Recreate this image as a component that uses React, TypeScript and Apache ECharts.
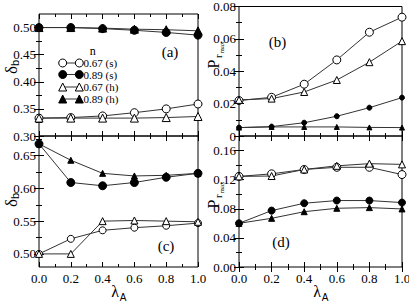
import React, { useEffect, useRef } from 'react';
import * as echarts from 'echarts';

// ---------- data ----------
const lambdaA = [0, 0.2, 0.4, 0.6, 0.8, 1.0];
const legendLabels = ['0.67 (s)', '0.89 (s)', '0.67 (h)', '0.89 (h)'];

// panel (a): delta_b
const deltaA_067s = [0.333, 0.334, 0.337, 0.343, 0.350, 0.359];
const deltaA_089s = [0.500, 0.500, 0.498, 0.495, 0.491, 0.486];
const deltaA_067h = [0.333, 0.333, 0.333, 0.333, 0.334, 0.336];
const deltaA_089h = [0.500, 0.500, 0.499, 0.497, 0.496, 0.494];

// panel (b): P_rmax
const prB_067s = [0.0219, 0.0239, 0.0320, 0.0470, 0.0641, 0.0734];
const prB_089s = [0.0052, 0.0058, 0.0082, 0.0122, 0.0175, 0.0237];
const prB_067h = [0.0223, 0.0231, 0.0272, 0.0346, 0.0456, 0.0586];
const prB_089h = [0.0052, 0.0056, 0.0056, 0.0056, 0.0053, 0.0052];

// panel (c): delta_b
const deltaC_067s = [0.500, 0.523, 0.536, 0.540, 0.543, 0.547];
const deltaC_089s = [0.668, 0.609, 0.604, 0.609, 0.617, 0.623];
const deltaC_067h = [0.500, 0.500, 0.550, 0.551, 0.550, 0.549];
const deltaC_089h = [0.668, 0.643, 0.623, 0.619, 0.620, 0.623];

// panel (d): P_rmax
const prD_067s = [0.1245, 0.128, 0.134, 0.137, 0.137, 0.127];
const prD_089s = [0.060, 0.0775, 0.0876, 0.0913, 0.0913, 0.0885];
const prD_067h = [0.1245, 0.125, 0.134, 0.139, 0.142, 0.141];
const prD_089h = [0.060, 0.0669, 0.0760, 0.0807, 0.0816, 0.0798];

// ticks
const xMajorTicks = [0, 0.2, 0.4, 0.6, 0.8, 1.0];
const xMinorTicks = [0.1, 0.3, 0.5, 0.7, 0.9];
const aMajorTicks = [0.30, 0.35, 0.40, 0.45, 0.50];
const aMinorTicks = [0.325, 0.375, 0.425, 0.475];
const bMajorTicks = [0, 0.02, 0.04, 0.06, 0.08];
const bMinorTicks = [0.01, 0.03, 0.05, 0.07];
const cMajorTicks = [0.50, 0.55, 0.60, 0.65];
const cMinorTicks = [0.525, 0.575, 0.625, 0.675];
const dMajorTicks = [0, 0.04, 0.08, 0.12, 0.16];
const dMinorTicks = [0.02, 0.06, 0.10, 0.14];

// ---------- layout / style ----------
const SERIF = 'Liberation Serif, serif';
const SANS = 'Liberation Sans, sans-serif';
const LINE = '#333';

const markerStyles = [
  { symbol: 'circle', filled: false },
  { symbol: 'circle', filled: true },
  { symbol: 'triangle', filled: false },
  { symbol: 'triangle', filled: true },
];

const panels = [
  {
    left: 39, top: 14, width: 159, height: 122, ymin: 0.30, ymax: 0.525,
    yMajor: aMajorTicks, yMinor: aMinorTicks, fmt: (v: number) => v.toFixed(2),
    xLabels: false, data: [deltaA_067s, deltaA_089s, deltaA_067h, deltaA_089h], sizes: [8, 8, 8, 8],
  },
  {
    left: 239, top: 6.5, width: 163, height: 129.5, ymin: 0, ymax: 0.08,
    yMajor: bMajorTicks, yMinor: bMinorTicks, fmt: (v: number) => (v === 0 ? '0' : v.toFixed(2)),
    xLabels: false, data: [prB_067s, prB_089s, prB_067h, prB_089h], sizes: [8, 5, 7, 5],
  },
  {
    left: 39, top: 136, width: 159, height: 131, ymin: 0.48, ymax: 0.68,
    yMajor: cMajorTicks, yMinor: cMinorTicks, fmt: (v: number) => v.toFixed(2),
    xLabels: true, data: [deltaC_067s, deltaC_089s, deltaC_067h, deltaC_089h], sizes: [7, 8, 7, 6],
  },
  {
    left: 239, top: 136, width: 163, height: 131, ymin: 0, ymax: 0.18,
    yMajor: dMajorTicks, yMinor: dMinorTicks, fmt: (v: number) => v.toFixed(2),
    xLabels: true, data: [prD_067s, prD_089s, prD_067h, prD_089h], sizes: [8, 7, 7, 6],
  },
];

function buildOption() {
  const grid: any[] = [];
  const xAxis: any[] = [];
  const yAxis: any[] = [];
  const series: any[] = [];

  panels.forEach((p, pi) => {
    for (let k = 0; k < 2; k++) {
      const gi = pi * 2 + k;
      grid.push({
        left: p.left, top: p.top, width: p.width, height: p.height,
        show: k === 0, borderColor: '#000', borderWidth: 1, backgroundColor: 'transparent',
        containLabel: false, outerBoundsMode: 'none',
      });
      const xt = k === 0 ? xMajorTicks : xMinorTicks;
      const yt = k === 0 ? p.yMajor : p.yMinor;
      const tl = k === 0 ? 5 : 3;
      ['bottom', 'top'].forEach((pos) => {
        xAxis.push({
          type: 'value', gridIndex: gi, position: pos, min: 0, max: 1,
          axisLine: { show: false }, splitLine: { show: false },
          axisTick: { show: true, inside: true, length: tl, customValues: xt, lineStyle: { color: '#000', width: 1 } },
          axisLabel: {
            show: k === 0 && pos === 'bottom' && p.xLabels, customValues: xMajorTicks,
            formatter: (v: number) => v.toFixed(1), margin: 5,
            fontFamily: SERIF, fontSize: 13, color: '#000',
          },
        });
      });
      ['left', 'right'].forEach((pos) => {
        yAxis.push({
          type: 'value', gridIndex: gi, position: pos, min: p.ymin, max: p.ymax,
          axisLine: { show: false }, splitLine: { show: false },
          axisTick: { show: true, inside: true, length: tl, customValues: yt, lineStyle: { color: '#000', width: 1 } },
          axisLabel: {
            show: k === 0 && pos === 'left', customValues: p.yMajor,
            formatter: p.fmt, margin: 3,
            fontFamily: SERIF, fontSize: 13, color: '#000',
          },
        });
      });
    }
    p.data.forEach((vals, si) => {
      const m = markerStyles[si];
      series.push({
        type: 'line',
        name: legendLabels[si],
        xAxisIndex: pi * 4,
        yAxisIndex: pi * 4,
        data: lambdaA.map((x, i) => [x, vals[i]]),
        symbol: m.symbol,
        symbolSize: p.sizes[si],
        showSymbol: true,
        lineStyle: { color: LINE, width: 1 },
        itemStyle: { color: m.filled ? '#000' : '#fff', borderColor: '#000', borderWidth: 1 },
        emphasis: { disabled: true },
        z: 3,
      });
    });
  });

  const graphic: any[] = [];
  const txt = (text: string, x: number, y: number, size: number, family = SERIF, align = 'center') => ({
    type: 'text', x, y,
    style: { text, fontFamily: family, fontSize: size, fill: '#000', textAlign: align, textVerticalAlign: 'middle' },
  });

  // panel labels
  graphic.push(txt('(a)', 170, 52, 15));
  graphic.push(txt('(b)', 277.5, 42, 15));
  graphic.push(txt('(c)', 166, 246, 15));
  graphic.push(txt('(d)', 281, 242, 15));

  // legend
  graphic.push(txt('n', 92.7, 51, 12));
  const rows = [63, 74.5, 87, 99];
  const lx1 = 62.7, lx2 = 79.3, ms = 8;
  rows.forEach((ry, i) => {
    const m = markerStyles[i];
    graphic.push({ type: 'line', shape: { x1: lx1, y1: ry, x2: lx2, y2: ry }, style: { stroke: LINE, lineWidth: 1 } });
    [lx1, lx2].forEach((cx) => {
      const style = { fill: m.filled ? '#000' : '#fff', stroke: '#000', lineWidth: 1 };
      if (m.symbol === 'circle') {
        graphic.push({ type: 'circle', shape: { cx, cy: ry, r: ms / 2 }, style });
      } else {
        graphic.push({
          type: 'polygon',
          shape: { points: [[cx, ry - ms / 2], [cx - ms / 2, ry + ms / 2], [cx + ms / 2, ry + ms / 2]] },
          style,
        });
      }
    });
    graphic.push(txt(legendLabels[i], 83.5, ry, 11, SERIF, 'left'));
  });

  // x axis titles
  [[115, 291], [317, 291]].forEach(([cx, cy]) => {
    graphic.push(txt('λ', cx, cy, 16));
    graphic.push(txt('A', cx + 8, cy + 6, 10, SANS));
  });

  // y axis titles (rotated)
  const deltaTitle = (cx: number, cy: number) => ({
    type: 'group', x: cx, y: cy, rotation: Math.PI / 2,
    children: [
      { type: 'text', x: 0, y: 0, style: { text: 'δ', fontFamily: SERIF, fontSize: 17, fill: '#000', textAlign: 'center', textVerticalAlign: 'middle' } },
      { type: 'text', x: 4, y: 4, style: { text: 'b', fontFamily: SANS, fontSize: 11, fill: '#000', textAlign: 'left', textVerticalAlign: 'middle' } },
    ],
  });
  const pTitle = (cx: number, cy: number) => ({
    type: 'group', x: cx, y: cy, rotation: Math.PI / 2,
    children: [
      { type: 'text', x: 0, y: 0, style: { text: 'P', fontFamily: SERIF, fontSize: 16, fill: '#000', textAlign: 'center', textVerticalAlign: 'middle' } },
      { type: 'text', x: 6, y: 5, style: { text: 'r', fontFamily: SERIF, fontSize: 11, fill: '#000', textAlign: 'left', textVerticalAlign: 'middle' } },
      { type: 'text', x: 10.5, y: 8.5, style: { text: 'max', fontFamily: SERIF, fontSize: 7, fill: '#000', textAlign: 'left', textVerticalAlign: 'middle' } },
    ],
  });
  graphic.push(deltaTitle(11, 70));
  graphic.push(deltaTitle(11, 203));
  graphic.push(pTitle(213, 64));
  graphic.push(pTitle(213, 204));

  return {
    animation: false,
    backgroundColor: '#fff',
    grid, xAxis, yAxis, series, graphic,
  };
}

export default function App() {
  const ref = useRef<HTMLDivElement>(null);
  useEffect(() => {
    document.body.style.margin = '0';
    if (!ref.current) return;
    const chart = echarts.init(ref.current, undefined, { renderer: 'svg' });
    chart.setOption(buildOption() as any);
    return () => chart.dispose();
  }, []);
  return <div ref={ref} style={{ width: 409, height: 307 }} />;
}
